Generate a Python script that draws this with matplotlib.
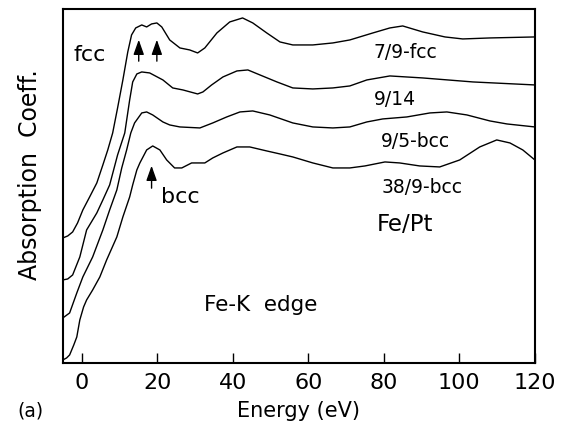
import numpy as np
import matplotlib
matplotlib.use("Agg")
import matplotlib.pyplot as plt

plt.rcParams['font.family'] = ['DejaVu Sans']

# Fe K-edge near-edge spectra, vertically offset (arb. units)
e_fcc79 = [-5.0, -3.7, -2.4, -1.1, 0.3, 2.1, 4.0, 5.6, 6.9, 8.2, 9.5, 10.9, 12.2,
           13.2, 14.3, 15.9, 17.2, 18.5, 19.9, 21.2, 23.3, 26.0, 28.6, 30.7, 32.6,
           35.8, 39.2, 42.6, 45.3, 49.0, 52.5, 55.9, 61.2, 66.5, 71.0, 77.1, 81.6,
           85.0, 90.3, 96.2, 100.9, 108.1, 120.0]
a_fcc79 = [1.25, 1.27, 1.31, 1.40, 1.53, 1.66, 1.80, 1.98, 2.13, 2.30, 2.55, 2.83, 3.11,
           3.28, 3.35, 3.38, 3.36, 3.39, 3.40, 3.36, 3.23, 3.15, 3.13, 3.10, 3.15,
           3.30, 3.41, 3.45, 3.40, 3.30, 3.21, 3.18, 3.18, 3.20, 3.23, 3.30, 3.35,
           3.37, 3.31, 3.26, 3.24, 3.25, 3.26]

e_914 = [-5.0, -3.7, -2.4, -0.5, 1.3, 4.0, 5.6, 7.4, 9.5, 11.4, 12.7, 13.5, 14.6,
         15.9, 18.0, 21.5, 24.1, 26.8, 30.7, 32.1, 34.4, 37.4, 41.1, 44.0, 47.2,
         51.7, 55.9, 61.2, 66.5, 71.0, 75.5, 81.6, 90.3, 103.6, 120.0]
a_914 = [0.83, 0.84, 0.88, 1.06, 1.33, 1.50, 1.63, 1.78, 2.08, 2.30, 2.63, 2.81, 2.89,
         2.91, 2.90, 2.83, 2.75, 2.73, 2.69, 2.71, 2.78, 2.86, 2.92, 2.93, 2.88,
         2.81, 2.75, 2.74, 2.75, 2.77, 2.83, 2.87, 2.85, 2.81, 2.78]

e_bcc95 = [-5.0, -3.2, -1.3, 0.3, 2.9, 5.6, 7.4, 9.3, 10.6, 11.9, 13.0, 14.0, 15.9,
           17.2, 18.8, 21.5, 23.3, 26.0, 31.3, 34.7, 38.4, 41.9, 45.3, 49.8, 55.9,
           61.2, 66.5, 71.0, 75.5, 79.7, 86.1, 92.2, 96.7, 102.0, 108.1, 112.6, 120.0]
a_bcc95 = [0.45, 0.50, 0.70, 0.86, 1.06, 1.33, 1.53, 1.73, 1.95, 2.13, 2.30, 2.40, 2.50,
           2.51, 2.48, 2.41, 2.38, 2.36, 2.35, 2.40, 2.46, 2.51, 2.52, 2.48, 2.40,
           2.36, 2.35, 2.36, 2.41, 2.44, 2.46, 2.50, 2.51, 2.48, 2.42, 2.39, 2.36]

e_bcc389 = [-5.0, -4.0, -3.2, -2.1, -1.3, -0.5, 0.5, 1.3, 2.9, 4.8, 6.6, 9.3, 10.9,
            12.7, 13.5, 14.6, 15.4, 17.2, 18.8, 20.7, 22.5, 24.6, 26.5, 29.1, 32.6,
            34.7, 37.4, 41.1, 44.5, 49.0, 52.5, 55.9, 61.2, 66.5, 71.0, 75.0, 80.3,
            84.2, 89.5, 94.8, 100.1, 105.4, 109.9, 113.4, 116.8, 120.0]
a_bcc389 = [0.03, 0.05, 0.08, 0.18, 0.26, 0.43, 0.56, 0.63, 0.73, 0.86, 1.03, 1.26, 1.46,
            1.66, 1.78, 1.93, 2.00, 2.13, 2.17, 2.13, 2.03, 1.95, 1.95, 2.00, 2.00,
            2.05, 2.10, 2.16, 2.16, 2.12, 2.09, 2.06, 2.00, 1.95, 1.95, 1.97, 2.01,
            2.00, 1.97, 1.96, 2.03, 2.16, 2.23, 2.20, 2.13, 2.03]

sample_names = ['7/9-fcc', '9/14', '9/5-bcc', '38/9-bcc']
name_xy = [(85.8, 3.10), (82.9, 2.63), (88.5, 2.21), (90.1, 1.75)]

fig = plt.figure(figsize=(5.66, 4.26), dpi=100)
ax = fig.add_axes([0.111, 0.148, 0.834, 0.831])

for e, a in [(e_fcc79, a_fcc79), (e_914, a_914), (e_bcc95, a_bcc95), (e_bcc389, a_bcc389)]:
    ax.plot(e, a, color='black', lw=1.0, solid_joinstyle='round')

for name, (x, y) in zip(sample_names, name_xy):
    ax.text(x, y, name, fontsize=13.5, ha='center', va='center')

# peak markers
arrow = dict(arrowstyle='-|>,head_length=0.9,head_width=0.32', color='black', lw=1.0)
for x in (15.1, 19.9):
    ax.annotate('', xy=(x, 3.26), xytext=(x, 2.99), arrowprops=arrow)
ax.annotate('', xy=(18.5, 2.00), xytext=(18.5, 1.72), arrowprops=arrow)

ax.text(2.0, 3.08, 'fcc', fontsize=16, ha='center', va='center')
ax.text(26.2, 1.66, 'bcc', fontsize=16, ha='center', va='center')
ax.text(85.6, 1.38, 'Fe/Pt', fontsize=16.5, ha='center', va='center')
ax.text(47.4, 0.58, 'Fe-K  edge', fontsize=15.5, ha='center', va='center')

ax.set_xlim(-5, 120)
ax.set_ylim(0, 3.54)
ax.set_xticks(np.arange(0, 121, 20))
ax.set_yticks([])
ax.tick_params(axis='x', direction='in', length=7, width=1.0, labelsize=16, pad=7)
for s in ax.spines.values():
    s.set_linewidth(1.5)

ax.set_xlabel('Energy (eV)', fontsize=15, labelpad=6)
ax.set_ylabel('Absorption  Coeff.', fontsize=17)
ax.yaxis.set_label_coords(-0.045, 0.531)
fig.text(0.03, 0.012, '(a)', fontsize=13.5, ha='left', va='bottom')

fig.savefig('out.png', dpi=100)
